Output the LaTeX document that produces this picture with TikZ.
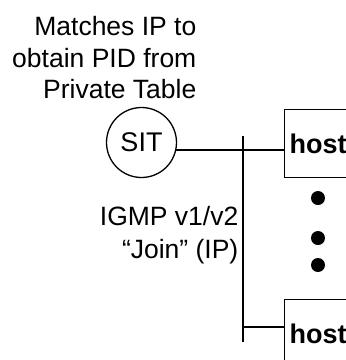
\documentclass[tikz,border=0pt]{standalone}
\usepackage{fontspec}
\setmainfont{Liberation Sans}
\usetikzlibrary{positioning}

\begin{document}
\begin{tikzpicture}[
    x=1pt, y=-1pt,
    line width=1.3pt,
    label/.style={align=right, inner sep=0pt, font=\fontsize{26.5}{31.5}\selectfont},
    table/.style={draw, circle, minimum size=70pt, inner sep=0pt, font=\fontsize{27}{30}\selectfont},
    hostbox/.style={draw, anchor=north west, minimum width=90pt, minimum height=68pt,
        text width=80pt, align=left, inner xsep=5pt, font=\fontsize{27}{30}\selectfont\bfseries},
]
    \clip (0,0) rectangle (346,360);

    \node[label, anchor=north east] (match) at (197,16) {Matches IP to\\obtain PID from\\Private Table};
    \node[table] (sit) at (141.5,142.5) {SIT};

    % Hosts
    \node[hostbox] (host1) at (284,109) {host};
    \node[hostbox] (host2) at (284,299) {host};
    \foreach \y in {198, 238, 265}
        \fill (318,\y) circle (7pt);

    % Bus
    \coordinate (bustop) at (243,136);
    \coordinate (busbot) at (243,342);
    \coordinate (tap) at (243,327);
    \draw (bustop) -- (busbot);
    \draw (sit.-12) -- (sit.-12 -| host1.west);
    \draw (tap) -- (tap -| host2.west);

    \node[label, anchor=north east, font=\fontsize{26.5}{33}\selectfont] (igmp) at (239,206) {IGMP v1/v2\\“Join” (IP)};
\end{tikzpicture}
\end{document}
